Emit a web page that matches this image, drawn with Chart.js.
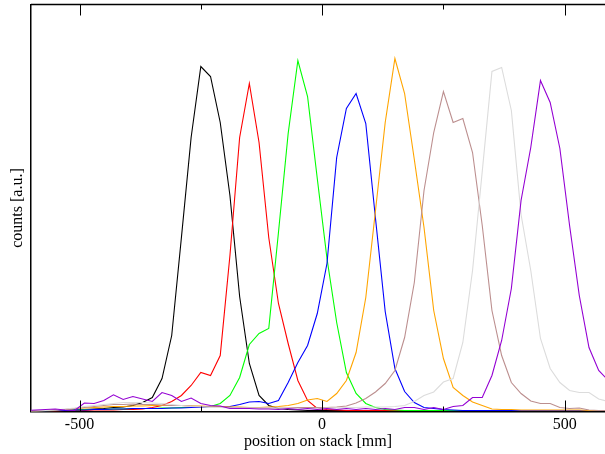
<!DOCTYPE html>
<html>
<head>
<meta charset="utf-8">
<script src="https://cdn.jsdelivr.net/npm/chart.js@4"></script>
<style>
  html, body { margin: 0; padding: 0; background: #fff; overflow: hidden; }
</style>
</head>
<body>
<canvas id="chart" width="605" height="454"></canvas>
<script>
// positions of the bins on the stack (mm), step 20
const positions = [];
for (let p = -610; p <= 590; p += 20) positions.push(p);

const tickValues = [-500, -250, 0, 250, 500];
const tickLabels = [-500, 0, 500];

// counts per bin, one array per scan
const black = [0.5,0.5,0.5,1,1,1.5,2,2.5,3,4,4.5,6,9,14,33,76,174,274,345,335,289,216,115,48,16,6,3,2,1.5,1,1,1,1,1,1,1,1,1,1,1,1,1,1,1,1,1,1,1,1,1,1,1,1,1,1,1,1,1,1,1,1];
const red = [0.5,0.5,0.5,0.5,1,1,1,1.5,1.5,1.5,2,2,2.5,4,6,10,16,26,39,36,56,156,274,328,269,174,108,68,31,11,3,2,1.5,1,1,1,1,1,1,1,1,1,1,1,1,1,1,1,1,1,1,1,1,1,1,1,1,1,1,1,1];
const green = [0.5,0.5,0.5,1,1,1.5,2,2,2,2.5,2.5,3,3,3,3.5,3.5,4,4,4,5,8,16,34,67,78,83,179,278,351,315,233,153,89,39,18,8,4,2,1.5,1,1,1,1,1,1,1,1,1,1,1,1,1,1,1,1,1,1,1,1,1,1];
const blue = [0.5,0.5,0.5,1,1,1.5,1.5,2,2,2.5,2.5,3,3,3,3,3.5,3.5,4,4,4.5,4.5,5,7,9.5,10,8,11,29,49,66,98,148,254,303,318,288,193,100,43,20,9,4,3,2,1.5,1,1,1,1,1,1,1,1,1,1,1,1,1,1,1,1];
const orange = [0.5,0.5,1,1.5,2,3,3.5,4,4.5,5,5,5.5,5.5,6,6,6,6,5.5,5.5,5,5,4.5,4.5,4,4,4.5,5,6,8,11.5,13,10,18,31,59,114,201,289,353,318,252,184,101,53,24,16,9.5,6,2.5,2,2,1.5,1.5,1.5,1.5,1.5,1.5,1.5,1,1,1];
const rosy = [0.5,0.5,1,1.5,2,3,4,5,6,7,7,7.5,7,7,6.5,6,6,5.5,5,5,4.5,4,4,4,3.5,3.5,3.5,3.5,4,4,4,4,4.5,5.5,8.5,13,19.5,28,41,74,129,221,279,320,289,293,259,186,101,56,29,18,10.5,8,8,4,3,3.5,1.5,1,1];
const grey = [0.5,0.5,1,1.5,2.5,3.5,5,6,7,8,9,9,9,8.5,8,7,6,5,4.5,4,4,3.5,3.5,3.5,3.5,3.5,3.5,3,3,3,3,3.5,3.5,4,4,4.5,4.5,4.5,5,6,10,16,19.5,29.5,33,69,141,240,340,344,301,197,141,73,43,29,21,19,19,12.5,10];
const violet = [1,1.5,2,2.5,1.5,1,8.5,8,11,16.7,12,15,12.5,10,19,16,10,13.5,8,6,5.5,3,3,3,2.5,2.5,2,3,2,3,2,3,2,3,2,3,2,3,2,4,4,2,4,2,5,6,14,14,36,71,123,211,264,331,309,263,186,116,64,41,31];

const series = [
  { data: black, color: "#000000" },
  { data: red, color: "#ff0000" },
  { data: green, color: "#00ff00" },
  { data: blue, color: "#0000ff" },
  { data: orange, color: "#ffa500" },
  { data: rosy, color: "#bc8f8f" },
  { data: grey, color: "#dcdcdc" },
  { data: violet, color: "#9400d3" },
];

const serif = "'Liberation Serif', 'DejaVu Serif', serif";

// frame on top + inward tick marks (top and bottom)
const frame = {
  id: "frame",
  afterDraw(chart) {
    const { ctx, chartArea } = chart;
    const x = chart.scales.x;
    ctx.save();
    ctx.strokeStyle = "#000";
    ctx.lineWidth = 1.5;
    ctx.beginPath();
    ctx.moveTo(chartArea.left, chartArea.top);
    ctx.lineTo(chartArea.right, chartArea.top);
    ctx.stroke();
    ctx.lineWidth = 1;
    tickValues.forEach((v) => {
      const px = Math.round(x.getPixelForValue(v)) + 0.5;
      const len = v % 500 === 0 ? 11 : 5;
      ctx.beginPath();
      ctx.moveTo(px, chartArea.bottom);
      ctx.lineTo(px, chartArea.bottom - len);
      ctx.moveTo(px, chartArea.top);
      ctx.lineTo(px, chartArea.top + len);
      ctx.stroke();
    });
    ctx.restore();
  },
};

new Chart(document.getElementById("chart"), {
  type: "line",
  data: {
    datasets: series.map((s, i) => ({
      data: s.data.map((v, j) => ({ x: positions[j], y: v })),
      borderColor: s.color,
      borderWidth: 1.1,
      pointRadius: 0,
      tension: 0,
      fill: false,
      order: series.length - i,
    })),
  },
  options: {
    responsive: false,
    animation: false,
    devicePixelRatio: 1,
    layout: { padding: { top: 4.5, right: 0, left: 0, bottom: 0 } },
    plugins: { legend: { display: false }, tooltip: { enabled: false } },
    scales: {
      x: {
        type: "linear",
        min: -600,
        max: 583,
        afterFit: (s) => { s.height = 42.5; },
        afterBuildTicks: (s) => { s.ticks = tickLabels.map((v) => ({ value: v })); },
        grid: { display: false, drawTicks: false },
        border: { display: true, color: "#000", width: 1.5 },
        ticks: {
          color: "#000",
          font: { family: serif, size: 16 },
          padding: 4,
          maxRotation: 0,
          autoSkip: false,
        },
        title: {
          display: true,
          text: "position on stack [mm]",
          color: "#000",
          font: { family: serif, size: 16 },
          padding: { top: 0, bottom: 3 },
        },
      },
      y: {
        min: 0,
        max: 407,
        afterFit: (s) => { s.width = 31; },
        grid: { display: false, drawTicks: false },
        border: { display: true, color: "#000", width: 1.5 },
        ticks: { display: false },
        title: {
          display: true,
          text: "counts [a.u.]",
          color: "#000",
          font: { family: serif, size: 16 },
          padding: { top: 8, bottom: 0 },
        },
      },
    },
  },
  plugins: [frame],
});
</script>
</body>
</html>
